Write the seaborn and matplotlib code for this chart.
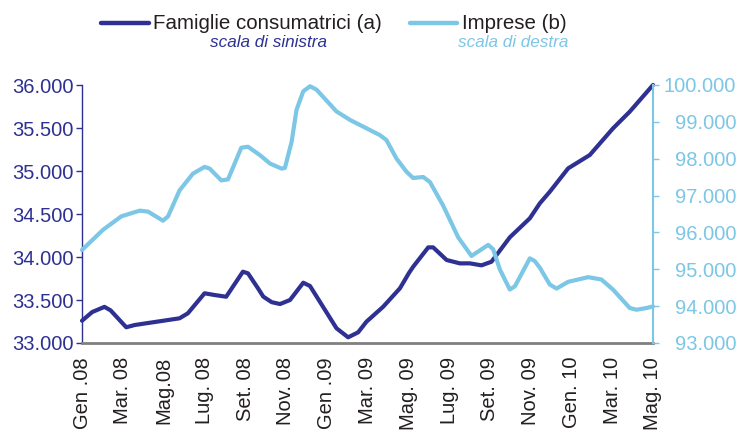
import matplotlib
matplotlib.use("Agg")
import matplotlib.pyplot as plt
from matplotlib.lines import Line2D
from matplotlib.ticker import FuncFormatter
import seaborn as sns

sns.set_style("white")
plt.rcParams['font.family'] = ['Liberation Sans', 'DejaVu Sans']

# ---- data (x = months since Jan 2008) ----
mesi_famiglie = [0.0, 0.5, 1.1, 1.4, 2.17, 2.58, 4.78, 5.19, 6.01, 6.5, 7.07, 7.89, 8.14,
                 8.63, 8.89, 9.3, 9.71, 10.2, 10.85, 11.18, 12.48, 13.05, 13.54, 13.95,
                 14.77, 15.59, 16.04, 16.24, 16.98, 17.22, 17.88, 18.53, 19.02, 19.59,
                 20.08, 20.98, 21.96, 22.45, 22.94, 23.84, 24.9, 26.04, 26.86, 28.0]
famiglie = [33259, 33360, 33420, 33380, 33183, 33209, 33287, 33345, 33578, 33558, 33538,
            33829, 33810, 33636, 33539, 33475, 33453, 33500, 33701, 33663, 33171, 33066,
            33124, 33248, 33422, 33636, 33817, 33887, 34112, 34112, 33965, 33926, 33926,
            33903, 33945, 34229, 34450, 34624, 34759, 35031, 35186, 35496, 35690, 36000]

mesi_imprese = [0.0, 1.03, 1.93, 2.83, 3.24, 3.97, 4.22, 4.78, 5.44, 6.01, 6.26, 6.83,
                7.16, 7.81, 8.14, 8.73, 9.22, 9.79, 9.95, 10.28, 10.52, 10.85, 11.18,
                11.5, 12.48, 13.14, 14.6, 14.93, 15.42, 15.92, 16.24, 16.73, 17.06,
                17.71, 18.45, 19.1, 19.92, 20.16, 20.49, 20.98, 21.23, 21.96, 22.2,
                22.45, 22.94, 23.27, 23.84, 24.82, 25.47, 26.04, 26.86, 27.19, 27.68, 28.0]
imprese = [95524, 96071, 96437, 96591, 96564, 96318, 96437, 97138, 97595, 97778, 97732,
           97412, 97439, 98298, 98325, 98095, 97868, 97731, 97750, 98462, 99326, 99829,
           99966, 99874, 99282, 99053, 98643, 98505, 98005, 97641, 97477, 97504, 97368,
           96728, 95864, 95361, 95662, 95544, 94997, 94450, 94540, 95297, 95224, 95043,
           94586, 94477, 94660, 94786, 94723, 94449, 93949, 93902, 93949, 93993]

tick_mesi = [0, 2, 4, 6, 8, 10, 12, 14, 16, 18, 20, 22, 24, 26, 28]
tick_labels = ["Gen .08", "Mar. 08", "Mag.08", "Lug. 08", "Set. 08", "Nov. 08", "Gen .09",
               "Mar. 09", "Mag. 09", "Lug. 09", "Set. 09", "Nov. 09", "Gen. 10", "Mar. 10",
               "Mag. 10"]
left_ticks = [33000, 33500, 34000, 34500, 35000, 35500, 36000]
right_ticks = [93000, 94000, 95000, 96000, 97000, 98000, 99000, 100000]

DARK = "#2e3192"
LIGHT = "#7cc6e6"
TXT = "#231f20"

W, H = 739, 430
fig = plt.figure(figsize=(W / 100, H / 100), dpi=100)
ax = fig.add_axes([82 / W, 1 - 343 / H, (653 - 82) / W, (343 - 85) / H])
ax2 = ax.twinx()

sns.lineplot(x=mesi_famiglie, y=famiglie, ax=ax, color=DARK, linewidth=3.0,
             clip_on=False, solid_capstyle='round')
sns.lineplot(x=mesi_imprese, y=imprese, ax=ax2, color=LIGHT, linewidth=3.0,
             clip_on=False, solid_capstyle='round')

fmt = FuncFormatter(lambda v, p: f"{int(v):,}".replace(",", "."))

ax.set_xlim(0, 28)
ax.set_ylim(33000, 36000)
ax2.set_ylim(93000, 100000)
ax.set_xticks(tick_mesi)
ax.set_xticklabels(tick_labels, rotation=90, fontsize=14.5, color=TXT)
ax.tick_params(axis='x', length=0, pad=10)
ax.set_yticks(left_ticks)
ax.yaxis.set_major_formatter(fmt)
ax.tick_params(axis='y', direction='out', length=4, width=1, color=DARK,
               labelcolor=DARK, labelsize=14.5, pad=2, left=True)
ax2.set_yticks(right_ticks)
ax2.yaxis.set_major_formatter(fmt)
ax2.tick_params(axis='y', direction='out', length=4, width=1, color=LIGHT,
                labelcolor=LIGHT, labelsize=14.5, pad=56, right=True)
for lbl in ax2.get_yticklabels():
    lbl.set_horizontalalignment('right')

for a in (ax, ax2):
    a.set_xlabel("")
    a.set_ylabel("")
    a.spines['top'].set_visible(False)
ax.spines['right'].set_visible(False)
ax.spines['left'].set_color(DARK)
ax.spines['left'].set_linewidth(1.0)
ax.spines['bottom'].set_color("#808080")
ax.spines['bottom'].set_linewidth(2.0)
ax2.spines['left'].set_visible(False)
ax2.spines['bottom'].set_visible(False)
ax2.spines['right'].set_color(LIGHT)
ax2.spines['right'].set_linewidth(1.5)
ax.grid(False)
ax2.grid(False)

# legend
fig.add_artist(Line2D([101 / W, 149 / W], [1 - 23 / H] * 2, color=DARK, lw=3.2,
                      transform=fig.transFigure))
fig.text(153 / W, 1 - 29 / H, "Famiglie consumatrici (a)", fontsize=14.8,
         color=TXT, ha='left', va='baseline')
fig.text(268 / W, 1 - 47 / H, "scala di sinistra", fontsize=12.3, style='italic',
         color=DARK, ha='center', va='baseline')
fig.add_artist(Line2D([410 / W, 457 / W], [1 - 23 / H] * 2, color=LIGHT, lw=3.2,
                      transform=fig.transFigure))
fig.text(462 / W, 1 - 29 / H, "Imprese (b)", fontsize=14.8,
         color=TXT, ha='left', va='baseline')
fig.text(513 / W, 1 - 47 / H, "scala di destra", fontsize=12.3, style='italic',
         color=LIGHT, ha='center', va='baseline')

fig.savefig("out.png", dpi=100)
